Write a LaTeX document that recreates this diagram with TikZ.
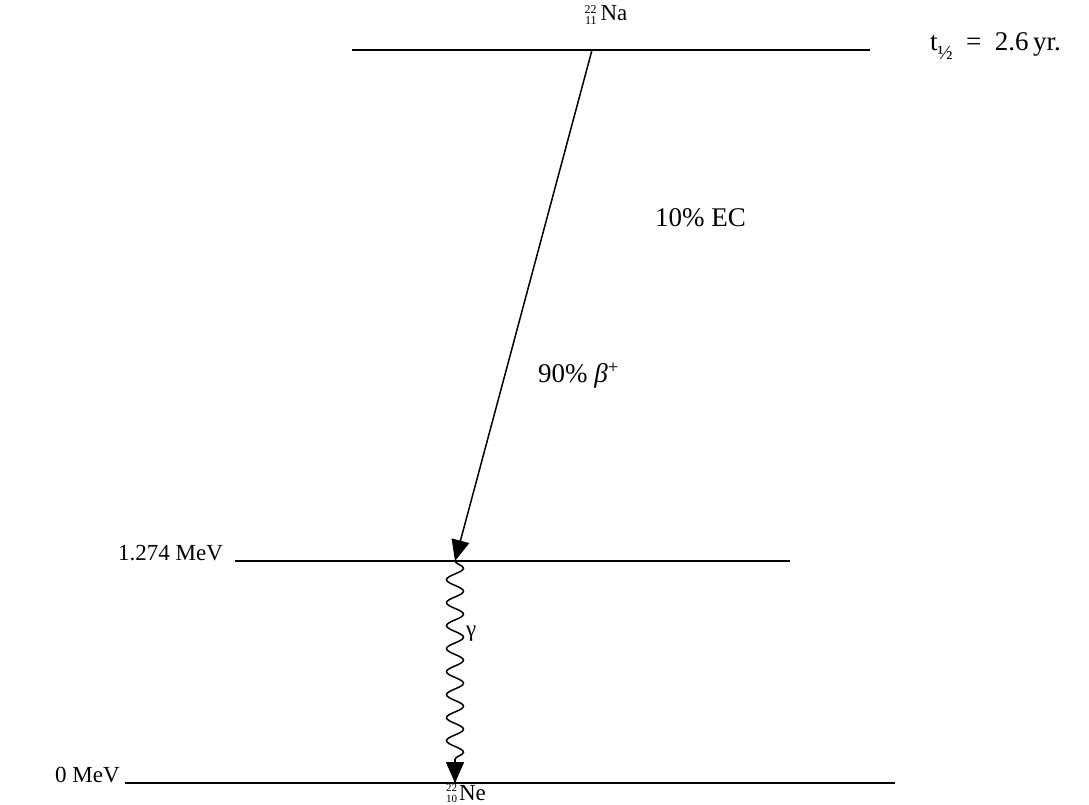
\documentclass[tikz,border=0pt]{standalone}
\usepackage{fontspec}
\setmainfont{Liberation Serif}
\usetikzlibrary{arrows.meta,decorations.pathmorphing,calc}
\newcommand{\nucl}[5]{\raisebox{#5}{\fontsize{#4}{#4}\selectfont\shortstack[r]{#1\\#2}}\,#3}
\begin{document}
\begin{tikzpicture}[x=1pt,y=-1pt,
  levelline/.style={line width=1.6pt},
  lbl/.style={font=\fontsize{23}{26}\selectfont, inner sep=0pt},
  biglbl/.style={font=\fontsize{27}{30}\selectfont, inner sep=0pt},
  decayarrow/.style={line width=1.5pt, -{Triangle[width=18pt,length=21pt]}},
  gammawave/.style={line width=1.5pt, decorate, decoration={snake, amplitude=8.5pt, segment length=23pt, post length=22pt}},
  gammatip/.style={line width=1.5pt, -{Triangle[width=18pt,length=21pt]}}]
\useasboundingbox (0,0) rectangle (1089,804);
% levels
\coordinate (topL) at (352,50); \coordinate (topR) at (870,50);
\coordinate (midL) at (235,561); \coordinate (midR) at (790,561);
\coordinate (botL) at (125,783); \coordinate (botR) at (895,783);
\draw[levelline] (topL) -- (topR);
\draw[levelline] (midL) -- (midR);
\draw[levelline] (botL) -- (botR);
% labels
\node[lbl] (na) at (606,15) {\nucl{22}{11}{Na}{12}{-4pt}};
\node[biglbl, anchor=west] (thalf) at (930,46) {t\raisebox{-9pt}{\fontsize{20}{20}\selectfont ½}\ \ =\ \ 2.6\,yr.};
\node[biglbl, anchor=west] (ec) at (655,218) {10\% EC};
\node[biglbl, anchor=west] (beta) at (538,376) {90\% \textit{β}\textsuperscript{+}};
\node[lbl, anchor=west] (e1) at (118,553) {1.274 MeV};
\node[lbl, anchor=west] (gam) at (466,634) {γ};
\node[lbl, anchor=west] (e0) at (55,775) {0 MeV};
\node[font=\fontsize{23}{25}\selectfont, inner sep=0pt, anchor=base west] (ne) at (446,800) {\nucl{22}{10}{\hspace{-2pt}Ne}{11}{-2pt}};
% transitions
\coordinate (start) at (592,50);
\coordinate (exc) at (455,561);
\coordinate (gs) at (455,783);
\coordinate (gtip) at ($(gs)+(0,-24)$);
\draw[decayarrow] (start) -- (exc);
\draw[gammawave] (exc) -- (gs);
\draw[gammatip] (gtip) -- (gs);
\end{tikzpicture}
\end{document}
